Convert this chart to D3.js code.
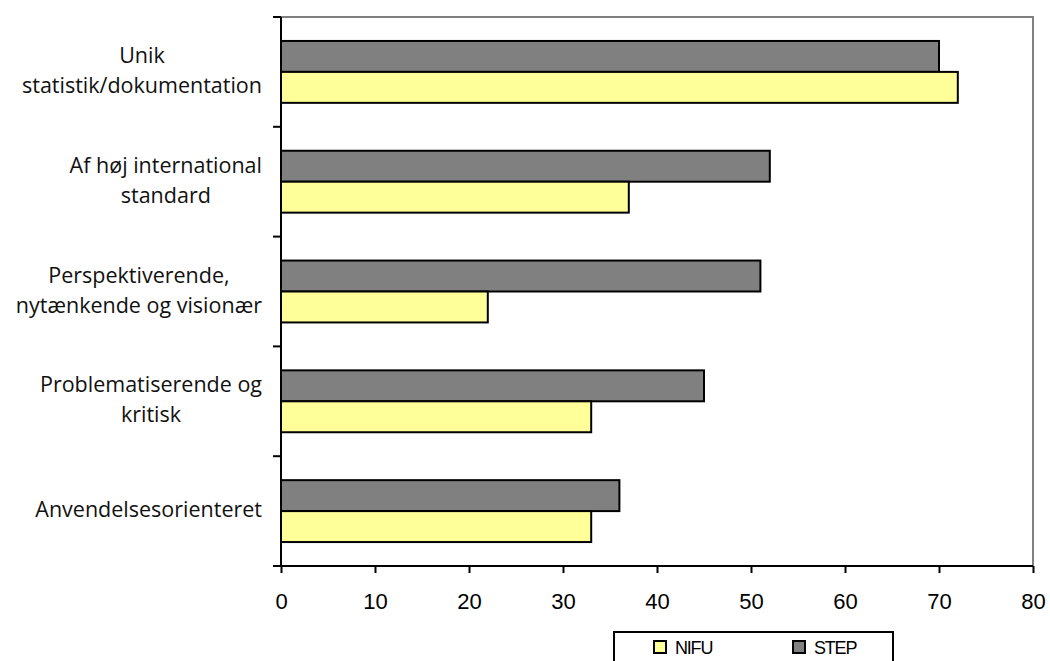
<!DOCTYPE html>
<html>
<head>
<meta charset="utf-8">
<script src="https://cdn.jsdelivr.net/npm/d3@7"></script>
<style>
  body { margin: 0; background: #fff; }
  svg { display: block; }
</style>
</head>
<body>
<svg id="chart" width="1050" height="661"></svg>
<script>
// Categories (top to bottom), each label split into its display lines
const categories = [
  ["Unik", "statistik/dokumentation"],
  ["Af høj international", "standard"],
  ["Perspektiverende,", "nytænkende og visionær"],
  ["Problematiserende og", "kritisk"],
  ["Anvendelsesorienteret"]
];
const series = ["STEP", "NIFU"];
const stepValues = [70, 52, 51, 45, 36];
const nifuValues = [72, 37, 22, 33, 33];
const xTicks = [0, 10, 20, 30, 40, 50, 60, 70, 80];
const legendOrder = ["NIFU", "STEP"];

const colors = { STEP: "#808080", NIFU: "#FFFF99" };

const svg = d3.select("#chart");
const plot = { left: 281, right: 1033, top: 17, bottom: 566 };

const x = d3.scaleLinear().domain([0, 80]).range([plot.left, plot.right]);
const y = d3.scaleBand().domain(d3.range(categories.length)).range([plot.top, plot.bottom]).padding(0);
const ySub = d3.scaleBand().domain(series).range([0, y.bandwidth()]).paddingInner(0).paddingOuter(0.774);

const rows = categories.map((c, i) => ({ i, STEP: stepValues[i], NIFU: nifuValues[i] }));

// Plot frame: grey top and right edges
svg.append("path")
  .attr("d", `M${plot.left},${plot.top}H${plot.right}V${plot.bottom}`)
  .attr("fill", "none").attr("stroke", "#808080").attr("stroke-width", 2);

// Bars
const groups = svg.append("g").selectAll("g").data(rows).join("g")
  .attr("transform", d => `translate(0,${y(d.i)})`);
groups.selectAll("rect").data(d => series.map(s => ({ s, v: d[s] }))).join("rect")
  .attr("x", x(0))
  .attr("y", d => ySub(d.s))
  .attr("width", d => x(d.v) - x(0))
  .attr("height", ySub.bandwidth())
  .attr("fill", d => colors[d.s])
  .attr("stroke", "#000")
  .attr("stroke-width", 2);

// Left axis: band boundaries as outward ticks
const bounds = d3.range(categories.length + 1).map(k => plot.top + k * y.step());
svg.append("line").attr("x1", plot.left).attr("x2", plot.left)
  .attr("y1", plot.top).attr("y2", plot.bottom).attr("stroke", "#000").attr("stroke-width", 2);
svg.append("g").selectAll("line").data(bounds).join("line")
  .attr("x1", plot.left - 8).attr("x2", plot.left)
  .attr("y1", d => d).attr("y2", d => d)
  .attr("stroke", "#000").attr("stroke-width", 2);

// Bottom axis
const xAxis = d3.axisBottom(x).tickValues(xTicks).tickSize(7).tickPadding(20).tickSizeOuter(0);
const gx = svg.append("g").attr("transform", `translate(0,${plot.bottom})`).call(xAxis);
gx.select(".domain").attr("stroke", "#000").attr("stroke-width", 2)
  .attr("d", `M${plot.left - 8},0H${plot.right}`);
gx.selectAll(".tick line").attr("stroke", "#000").attr("stroke-width", 2);
gx.selectAll(".tick text")
  .attr("font-family", "'Liberation Sans', Arial, sans-serif")
  .attr("font-size", 22).attr("fill", "#000");

// Category labels: lines centred on each other, block right-aligned
const labelRight = 262;
const lineGap = 30;
const labels = svg.append("g").attr("font-family", "'Open Sans', 'Noto Sans', sans-serif")
  .attr("font-size", 21.5).attr("fill", "#111");
categories.forEach((lines, i) => {
  const cy = y(i) + y.bandwidth() / 2;
  const g = labels.append("g");
  const texts = lines.map((ln, k) => g.append("text")
    .attr("text-anchor", "middle")
    .attr("y", cy + 6 + (k - (lines.length - 1) / 2) * lineGap)
    .text(ln));
  const maxW = d3.max(texts, t => t.node().getComputedTextLength());
  texts.forEach(t => t.attr("x", labelRight - maxW / 2));
});

// Legend
const legend = svg.append("g");
legend.append("rect").attr("x", 614).attr("y", 632).attr("width", 279).attr("height", 40)
  .attr("fill", "#fff").attr("stroke", "#000").attr("stroke-width", 2);
const legendX = d3.scalePoint().domain(legendOrder).range([654, 793]);
const items = legend.selectAll("g.item").data(legendOrder).join("g").attr("class", "item")
  .attr("transform", d => `translate(${legendX(d)},641)`);
items.append("rect").attr("width", 12).attr("height", 12)
  .attr("fill", d => colors[d]).attr("stroke", "#000").attr("stroke-width", 2);
items.append("text").attr("x", 21).attr("y", 13)
  .attr("font-family", "'Liberation Sans', Arial, sans-serif")
  .attr("font-size", 18).attr("letter-spacing", -1.2)
  .text(d => d);
</script>
</body>
</html>
